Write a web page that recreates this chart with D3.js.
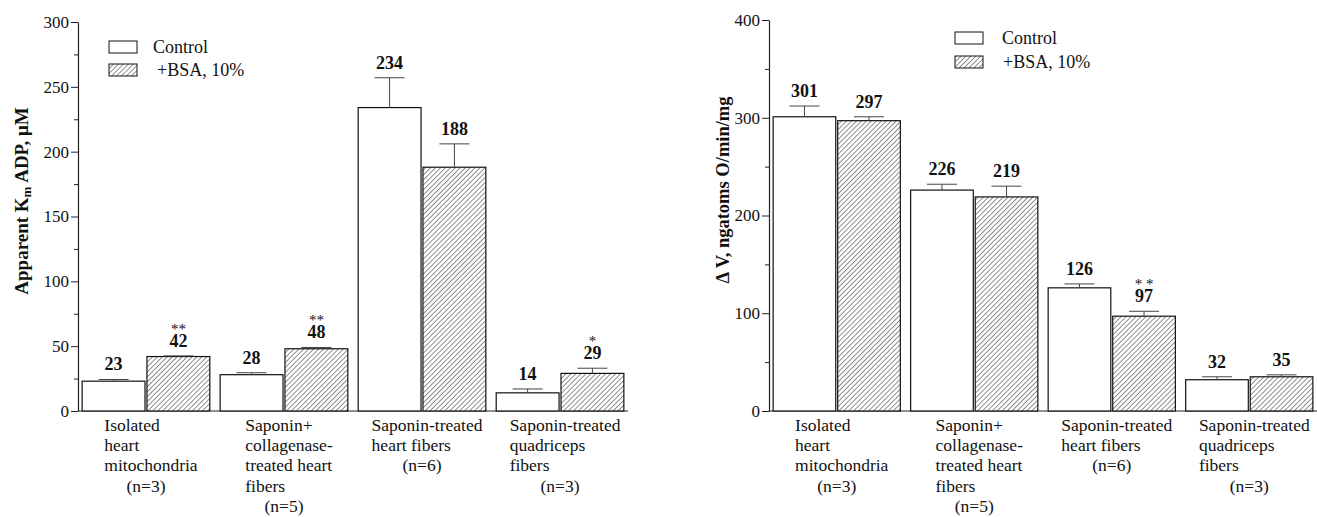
<!DOCTYPE html>
<html>
<head>
<meta charset="utf-8">
<script src="https://cdn.jsdelivr.net/npm/d3@7"></script>
<style>
  body { margin: 0; background: #fff; }
  text { font-family: "Liberation Serif", "Times New Roman", "DejaVu Serif", serif; fill: #111; }
</style>
</head>
<body>
<div id="chart"></div>
<script>
// categories (label lines) and sample sizes
var categoryLines = [
  ["Isolated", "heart", "mitochondria"],
  ["Saponin+", "collagenase-", "treated heart", "fibers"],
  ["Saponin-treated", "heart fibers"],
  ["Saponin-treated", "quadriceps", "fibers"]
];
var sampleSizes = ["(n=3)", "(n=5)", "(n=6)", "(n=3)"];
var seriesNames = ["Control", "+BSA, 10%"];

// left panel: apparent Km ADP, uM
var kmControl    = [23, 28, 234, 14];
var kmControlErr = [1.3, 1.5, 23, 3];
var kmBsa        = [42, 48, 188, 29];
var kmBsaErr     = [0.5, 1, 18, 4];
var kmBsaSig     = ["**", "**", "", "*"];
var kmTicks      = [0, 50, 100, 150, 200, 250, 300];
var kmMinor      = [25, 75, 125, 175, 225, 275];

// right panel: delta V, ngatoms O/min/mg
var vControl    = [301, 226, 126, 32];
var vControlErr = [11, 6, 4, 3];
var vBsa        = [297, 219, 97, 35];
var vBsaErr     = [4, 11, 5, 2];
var vBsaSig     = ["", "", "* *", ""];
var vTicks      = [0, 100, 200, 300, 400];
var vMinor      = [50, 150, 250, 350];

var W = 1317, H = 517;

var svg = d3.select("#chart")
  .append("svg")
    .attr("width", W)
    .attr("height", H);

svg.append("rect").attr("width", W).attr("height", H).attr("fill", "#fff");

// diagonal hatch for the BSA bars
var pat = svg.append("defs").append("pattern")
  .attr("id", "hatch")
  .attr("patternUnits", "userSpaceOnUse")
  .attr("width", 3.5)
  .attr("height", 3.5)
  .attr("patternTransform", "rotate(45)");
pat.append("rect").attr("width", 3.5).attr("height", 3.5).attr("fill", "#fff");
pat.append("line")
  .attr("x1", 0).attr("y1", 0).attr("x2", 0).attr("y2", 3.5)
  .attr("stroke", "#222").attr("stroke-width", 1);

function drawPanel(p) {
  var g = svg.append("g").attr("transform", "translate(" + p.left + ",0)");

  var y = d3.scaleLinear().domain([0, p.max]).range([p.bottom, p.top]);
  var x0 = d3.scaleBand().domain(d3.range(categoryLines.length))
    .range([0, p.width]).paddingInner(0.075).paddingOuter(0.03);
  var x1 = d3.scaleBand().domain([0, 1])
    .range([0, x0.bandwidth()]).paddingInner(0.03);

  var rows = categoryLines.map(function(c, i) {
    return [
      {i: i, s: 0, v: p.control[i], e: p.controlErr[i], sig: ""},
      {i: i, s: 1, v: p.bsa[i], e: p.bsaErr[i], sig: p.sig[i]}
    ];
  });
  var flat = [].concat.apply([], rows);

  // y axis, minor ticks first
  g.append("g")
    .call(d3.axisLeft(y).tickValues(p.minor).tickSize(4).tickSizeOuter(0).tickFormat(""))
    .call(function(a) { a.select(".domain").remove(); })
    .selectAll("line").attr("stroke", "#222");

  var ya = g.append("g")
    .call(d3.axisLeft(y).tickValues(p.ticks).tickSize(7).tickPadding(2).tickSizeOuter(0));
  ya.select(".domain").attr("stroke", "#222").attr("stroke-width", 1.2);
  ya.selectAll("line").attr("stroke", "#222");
  ya.selectAll("text")
    .style("font-family", "Liberation Serif, serif")
    .style("font-size", "17px")
    .attr("fill", "#111");

  // baseline
  g.append("line")
    .attr("x1", 0).attr("x2", p.width)
    .attr("y1", y(0)).attr("y2", y(0))
    .attr("stroke", "#222").attr("stroke-width", 1.2);

  // bars
  g.selectAll("rect.bar")
    .data(flat)
    .enter().append("rect")
      .attr("class", "bar")
      .attr("x", function(d) { return x0(d.i) + x1(d.s); })
      .attr("y", function(d) { return y(d.v); })
      .attr("width", x1.bandwidth())
      .attr("height", function(d) { return y(0) - y(d.v); })
      .attr("fill", function(d) { return d.s === 0 ? "#fff" : "url(#hatch)"; })
      .attr("stroke", "#111")
      .attr("stroke-width", 1.2);

  // error bars (upper only)
  var cx = function(d) { return x0(d.i) + x1(d.s) + x1.bandwidth() / 2; };
  g.selectAll("line.err")
    .data(flat)
    .enter().append("line")
      .attr("class", "err")
      .attr("x1", cx).attr("x2", cx)
      .attr("y1", function(d) { return y(d.v); })
      .attr("y2", function(d) { return y(d.v + d.e); })
      .attr("stroke", "#444").attr("stroke-width", 1);
  g.selectAll("line.cap")
    .data(flat)
    .enter().append("line")
      .attr("class", "cap")
      .attr("x1", function(d) { return cx(d) - 15; })
      .attr("x2", function(d) { return cx(d) + 15; })
      .attr("y1", function(d) { return y(d.v + d.e); })
      .attr("y2", function(d) { return y(d.v + d.e); })
      .attr("stroke", "#444").attr("stroke-width", 1);

  // value labels
  g.selectAll("text.val")
    .data(flat)
    .enter().append("text")
      .attr("class", "val")
      .attr("x", cx)
      .attr("y", function(d) { return y(d.v + d.e) - 9; })
      .attr("text-anchor", "middle")
      .style("font-size", "18px")
      .style("font-weight", "bold")
      .text(function(d) { return d.v; });

  // significance marks
  g.selectAll("text.sig")
    .data(flat.filter(function(d) { return d.sig; }))
    .enter().append("text")
      .attr("class", "sig")
      .attr("x", cx)
      .attr("y", function(d) { return y(d.v + d.e) - 22; })
      .attr("text-anchor", "middle")
      .style("font-size", "15px")
      .text(function(d) { return d.sig; });

  // category labels: left-aligned block roughly centred under the group
  categoryLines.forEach(function(lines, i) {
    var center = x0(i) + x0.bandwidth() / 2;
    var block = g.append("g");
    var maxW = 0;
    lines.forEach(function(l, k) {
      var t = block.append("text")
        .attr("y", 431 + k * 20.2)
        .style("font-size", "17.5px")
        .text(l);
      maxW = Math.max(maxW, t.node().getComputedTextLength());
    });
    block.attr("transform", "translate(" + (center - maxW / 2 + 5) + ",0)");
    g.append("text")
      .attr("x", center)
      .attr("y", 431 + lines.length * 20.2)
      .attr("text-anchor", "middle")
      .style("font-size", "17.5px")
      .text(sampleSizes[i]);
  });

  // legend
  seriesNames.forEach(function(name, s) {
    var ly = p.legendY + s * p.legendGap;
    g.append("rect")
      .attr("x", p.legendX).attr("y", ly)
      .attr("width", 28).attr("height", 12)
      .attr("fill", s === 0 ? "#fff" : "url(#hatch)")
      .attr("stroke", "#111").attr("stroke-width", 1);
    g.append("text")
      .attr("x", p.legendX + p.legendTextDx[s])
      .attr("y", ly + 12)
      .style("font-size", "18px")
      .text(name);
  });

  // y axis title
  var yt = svg.append("text")
    .attr("transform", "translate(" + p.titleX + "," + p.titleY + ") rotate(-90)")
    .attr("text-anchor", "middle")
    .style("font-size", p.titleSize)
    .style("font-weight", "bold");
  p.title(yt);
}

drawPanel({
  left: 78, width: 550, top: 22, bottom: 411, max: 300,
  ticks: kmTicks, minor: kmMinor,
  control: kmControl, controlErr: kmControlErr,
  bsa: kmBsa, bsaErr: kmBsaErr, sig: kmBsaSig,
  legendX: 31, legendY: 41, legendGap: 23, legendTextDx: [44, 48],
  titleX: 28, titleY: 201, titleSize: "19px",
  title: function(t) {
    t.append("tspan").text("Apparent K");
    t.append("tspan").attr("dy", 3).style("font-size", "13px").text("m");
    t.append("tspan").attr("dy", -3).text(" ADP, \u03bcM");
  }
});

drawPanel({
  left: 769, width: 548, top: 20, bottom: 411, max: 400,
  ticks: vTicks, minor: vMinor,
  control: vControl, controlErr: vControlErr,
  bsa: vBsa, bsaErr: vBsaErr, sig: vBsaSig,
  legendX: 186, legendY: 32, legendGap: 24, legendTextDx: [47, 48],
  titleX: 729, titleY: 190, titleSize: "18.5px",
  title: function(t) {
    t.text("\u0394 V, ngatoms O/min/mg");
  }
});
</script>
</body>
</html>
